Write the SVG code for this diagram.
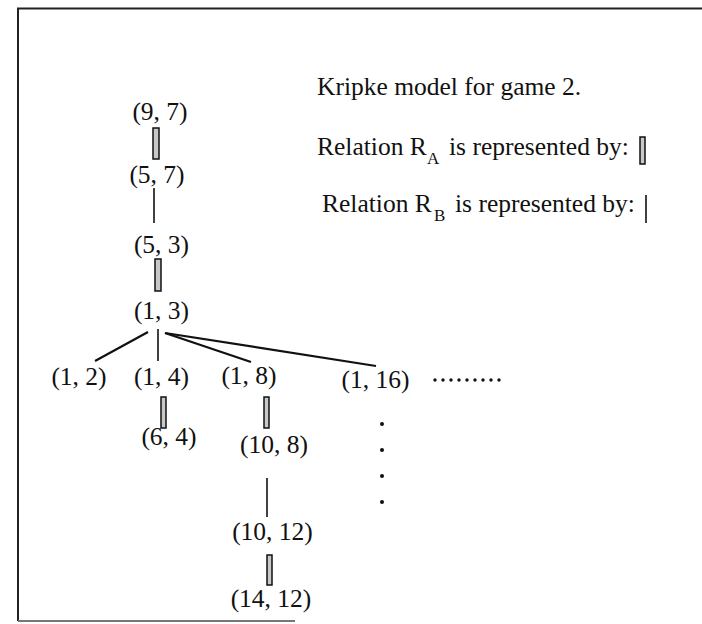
<svg xmlns="http://www.w3.org/2000/svg" width="702" height="624" viewBox="0 0 702 624">
<style>
text{font-family:"Liberation Serif","Times New Roman",serif;font-size:25.5px;fill:#111}
.n{text-anchor:middle}
.sub{font-size:17px}
.ra{fill:#c8c8c8;stroke:#111;stroke-width:1.5}
.rb{stroke:#111;stroke-width:1.6;fill:none}
.br{stroke:#111;stroke-width:2.2;fill:none}
</style>
<rect width="702" height="624" fill="#fff"/>
<g id="frame" fill="none">
<path d="M702,8.5 H18 V621" stroke="#222" stroke-width="2"/>
<path d="M18,621 H295" stroke="#777" stroke-width="2"/>
</g>
<g id="legend">
<text x="317" y="95">Kripke model for game 2.</text>
<text x="317" y="155">Relation R</text>
<text class="sub" x="427" y="164">A</text>
<text x="449" y="155">is represented by:</text>
<rect class="ra" x="640" y="137" width="5" height="27"/>
<text x="322" y="212">Relation R</text>
<text class="sub" x="434" y="221">B</text>
<text x="455" y="212">is represented by:</text>
<line class="rb" x1="646" y1="195" x2="646" y2="223"/>
</g>
<g id="connectors">
<rect class="ra" x="153" y="128" width="6" height="31"/>
<line class="rb" x1="154" y1="188" x2="154" y2="223"/>
<rect class="ra" x="155" y="259" width="6" height="32"/>
<line class="br" x1="148" y1="332" x2="95" y2="361"/>
<line class="rb" x1="158" y1="329" x2="158" y2="361"/>
<line class="br" x1="165" y1="333" x2="251" y2="362"/>
<line class="br" x1="165" y1="333" x2="376" y2="366"/>
<rect class="ra" x="161" y="397" width="5" height="31"/>
<rect class="ra" x="264" y="397" width="5" height="31"/>
<line class="rb" x1="267" y1="478" x2="267" y2="517"/>
<rect class="ra" x="267" y="555" width="5" height="30"/>
</g>
<g id="n97"><text class="n" x="160" y="120">(9, 7)</text></g>
<g id="n57"><text class="n" x="157" y="183">(5, 7)</text></g>
<g id="n53"><text class="n" x="161.5" y="253">(5, 3)</text></g>
<g id="n13"><text class="n" x="161.5" y="319">(1, 3)</text></g>
<g id="n12"><text class="n" x="79" y="385">(1, 2)</text></g>
<g id="n14"><text class="n" x="161.5" y="385">(1, 4)</text></g>
<g id="n18"><text class="n" x="249" y="384">(1, 8)</text></g>
<g id="n116"><text class="n" x="375.5" y="388">(1, 16)</text></g>
<g id="n64"><text class="n" x="169" y="445">(6, 4)</text></g>
<g id="n108"><text class="n" x="274" y="453">(10, 8)</text></g>
<g id="n1012"><text class="n" x="272.5" y="540">(10, 12)</text></g>
<g id="n1412"><text class="n" x="271" y="607">(14, 12)</text></g>
<g id="ellipsis" fill="#111">
<circle cx="435" cy="380" r="1.7"/><circle cx="443" cy="380" r="1.7"/><circle cx="451" cy="380" r="1.7"/>
<circle cx="459" cy="380" r="1.7"/><circle cx="467" cy="380" r="1.7"/><circle cx="475" cy="380" r="1.7"/>
<circle cx="483" cy="380" r="1.7"/><circle cx="491" cy="380" r="1.7"/><circle cx="499" cy="380" r="1.7"/>
<circle cx="382" cy="424" r="2"/><circle cx="382" cy="450" r="2"/>
<circle cx="382" cy="476" r="2"/><circle cx="382" cy="502" r="2"/>
</g>
</svg>
